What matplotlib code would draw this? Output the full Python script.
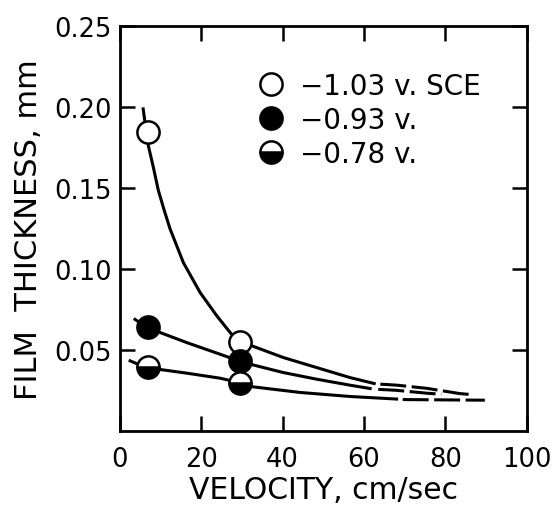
#!/usr/bin/env python3
"""Film thickness vs. velocity at three electrode potentials."""

import matplotlib as mpl

mpl.use("Agg")
import matplotlib.pyplot as plt

# measured points (velocity cm/sec, film thickness mm)
velocity = [7.0, 29.5]
thick_103 = [0.185, 0.055]
thick_093 = [0.064, 0.0434]
thick_078 = [0.0393, 0.030]
labels = ["\u22121.03 v. SCE", "\u22120.93 v.", "\u22120.78 v."]

# hand-drawn fitted curves (solid part)
curve_103_x = [5.7, 6.3, 7.0, 8.2, 9.4, 10.8, 12.3, 15.6, 19.7, 23.8, 27.4, 29.6,
               32.4, 40.1, 48.3, 56.5, 62.5]
curve_103_y = [0.199, 0.188, 0.176, 0.163, 0.149, 0.137, 0.125, 0.104, 0.0856,
               0.0712, 0.0599, 0.0552, 0.0527, 0.0455, 0.0393, 0.0331, 0.0294]
curve_093_x = [3.7, 6.6, 16.4, 24.6, 29.2, 31.9, 40.1, 48.3, 56.5, 61.5]
curve_093_y = [0.069, 0.064, 0.0547, 0.0475, 0.0434, 0.0414, 0.0362, 0.0321, 0.0284, 0.0263]
curve_078_x = [2.5, 6.3, 16.4, 24.6, 29.3, 31.9, 44.2, 56.5, 68.0]
curve_078_y = [0.0434, 0.0393, 0.0358, 0.0327, 0.030, 0.0276, 0.0239, 0.0214, 0.0198]

# dashed extrapolations
dash_103_x = [64.0, 68.0, 75.5, 83.5, 86.7]
dash_103_y = [0.0290, 0.0284, 0.0264, 0.0232, 0.0225]
dash_093_x = [63.5, 68.0, 75.5, 79.0]
dash_093_y = [0.0258, 0.0252, 0.0234, 0.0228]
dash_078_x = [69.5, 79.0, 89.7]
dash_078_y = [0.0195, 0.0193, 0.0191]


def main() -> None:
    plt.rcParams["font.family"] = ["DejaVu Sans"]
    fig = plt.figure(figsize=(5.58, 5.06), dpi=100)
    ax = fig.add_axes([0.215, 0.146, 0.729, 0.800])

    lw = 2.2
    for cx, cy in [(curve_103_x, curve_103_y), (curve_093_x, curve_093_y),
                   (curve_078_x, curve_078_y)]:
        ax.plot(cx, cy, color="black", lw=lw, zorder=2, solid_joinstyle="round")
    for dx, dy in [(dash_103_x, dash_103_y), (dash_093_x, dash_093_y),
                   (dash_078_x, dash_078_y)]:
        ax.plot(dx, dy, color="black", lw=lw, dashes=(8.5, 1.8), zorder=2)

    ms = 16
    mew = 1.8
    ax.plot(velocity, thick_103, "o", ms=ms, mfc="white", mec="black", mew=mew,
            zorder=3, label=labels[0])
    ax.plot(velocity, thick_093, "o", ms=ms, mfc="black", mec="black", mew=mew,
            zorder=3, label=labels[1])
    ax.plot(velocity, thick_078, "o", ms=ms, fillstyle="bottom", mfc="black",
            mfcalt="white", mec="black", mew=mew, zorder=3, label=labels[2])

    ax.set_xlim(0, 100)
    ax.set_ylim(0, 0.25)
    ax.set_xticks([0, 20, 40, 60, 80, 100])
    ax.set_xticklabels(["0", "20", "40", "60", "80", "100"])
    ax.set_yticks([0.05, 0.10, 0.15, 0.20, 0.25])
    ax.set_yticklabels(["0.05", "0.10", "0.15", "0.20", "0.25"])
    ax.tick_params(direction="in", length=11, width=1.8, labelsize=18.5,
                   top=True, right=True)
    ax.tick_params(axis="x", pad=11)
    ax.tick_params(axis="y", pad=6)
    for s in ax.spines.values():
        s.set_linewidth(2.0)

    ax.set_xlabel("VELOCITY, cm/sec", fontsize=21.5, labelpad=2)
    ax.set_ylabel("FILM  THICKNESS, mm", fontsize=22, labelpad=8)

    ax.legend(loc="upper left", bbox_to_anchor=(0.337, 0.888), frameon=False,
              fontsize=20, handlelength=1.0, handletextpad=0.55,
              labelspacing=0.22, borderpad=0, borderaxespad=0)

    fig.savefig("out.png", dpi=100)
    plt.close(fig)


if __name__ == "__main__":
    main()
